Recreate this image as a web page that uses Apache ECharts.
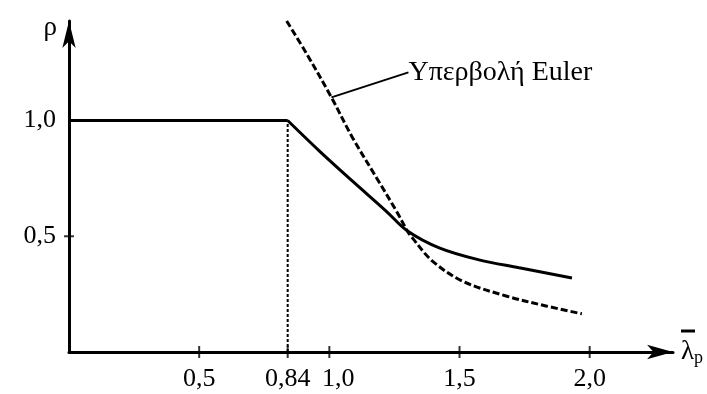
<!DOCTYPE html>
<html lang="el">
<head>
  <meta charset="UTF-8">
  <title>Υπερβολή Euler</title>
  <script src="https://cdn.jsdelivr.net/npm/echarts@6/dist/echarts.min.js"></script>
  <style>
    html, body { margin: 0; padding: 0; background: #fff; }
    #chart { width: 707px; height: 394px; }
  </style>
</head>
<body>
<div id="chart"></div>
<script>
  // ticks
  const xTickValues = [0.5, 0.84, 1.0, 1.5, 2.0];
  const xTickLabels = ['0,5', '0,84', '1,0', '1,5', '2,0'];
  const yTickValues = [0.5, 1.0];
  const yTickLabels = ['0,5', '1,0'];

  // reduction factor rho (plateau, then the curve after the 0.84 corner)
  const rhoX = [0, 0.84, 0.962, 1.089, 1.219, 1.299, 1.422, 1.575, 1.729, 1.932];
  const rhoY = [1.0, 1.0, 0.868, 0.738, 0.608, 0.524, 0.450, 0.398, 0.364, 0.320];

  // Euler hyperbola (dashed)
  const eulerX = [0.836, 0.912, 1.008, 1.089, 1.181, 1.257, 1.299, 1.318, 1.395, 1.510, 1.679, 1.832, 1.970];
  const eulerY = [1.43, 1.290, 1.100, 0.926, 0.753, 0.610, 0.524, 0.494, 0.394, 0.307, 0.242, 0.199, 0.165];
  const eulerLabel = 'Υπερβολή Euler';
  const eulerLabelAt = 2;

  // dotted line at 0.84
  const guideX = [0.84, 0.84];
  const guideY = [0, 1.0];

  const font = 'Liberation Serif';
  const pairs = (xs, ys) => xs.map((x, i) => [x, ys[i]]);

  const chart = echarts.init(document.getElementById('chart'));

  const rhoData = pairs(rhoX, rhoY);
  const eulerData = pairs(eulerX, eulerY).map((p, i) => i === eulerLabelAt ? {
    value: p,
    label: {
      show: true, position: 'right', formatter: eulerLabel,
      fontFamily: font, fontSize: 28, color: '#000'
    }
  } : p);

  // tick marks that cross the axis lines (the 1,0 on y is covered by the plateau)
  const xTickMarks = xTickValues.map(v => [v, 0]);
  const yTickMarks = [[0, yTickValues[0]]];

  chart.setOption({
    animation: false,
    grid: { left: 69, right: 34, top: 21, bottom: 42 },
    xAxis: {
      type: 'value', min: 0, max: 2.32,
      name: '{o|}\n{l|λ}{p|p}',
      nameLocation: 'end', nameGap: 8,
      nameTextStyle: {
        padding: [0, 0, 12, 0],
        rich: {
          o: { width: 14, height: 3, backgroundColor: '#000', lineHeight: 12 },
          l: { fontFamily: font, fontSize: 27, color: '#000', lineHeight: 24 },
          p: { fontFamily: font, fontSize: 18, color: '#000', padding: [12, 0, 0, 0] }
        }
      },
      axisLine: {
        lineStyle: { color: '#000', width: 3 },
        symbol: ['none', 'arrow'], symbolSize: [11, 26]
      },
      axisTick: { show: false },
      axisLabel: {
        customValues: xTickValues, margin: 14,
        formatter: v => {
          const s = xTickLabels[xTickValues.indexOf(v)];
          return v === 1.0 ? '{r|' + s + '}' : s;
        },
        rich: { r: { fontFamily: font, fontSize: 26, color: '#000', padding: [0, 0, 0, 18] } },
        fontFamily: font, fontSize: 26, color: '#000'
      },
      splitLine: { show: false }
    },
    yAxis: {
      type: 'value', min: 0, max: 1.43,
      name: 'ρ',
      nameLocation: 'end', nameGap: -7,
      nameTextStyle: {
        fontFamily: font, fontSize: 27, color: '#000',
        align: 'right', verticalAlign: 'middle', padding: [0, 12, 0, 0]
      },
      axisLine: {
        lineStyle: { color: '#000', width: 3 },
        symbol: ['none', 'arrow'], symbolSize: [10, 27]
      },
      axisTick: { show: false },
      axisLabel: {
        customValues: yTickValues, margin: 13,
        formatter: v => yTickLabels[yTickValues.indexOf(v)],
        fontFamily: font, fontSize: 26, color: '#000'
      },
      splitLine: { show: false }
    },
    series: [
      {
        type: 'line', data: pairs(guideX, guideY), showSymbol: false, silent: true,
        lineStyle: { color: '#000', width: 2, type: [3, 2] }
      },
      {
        type: 'scatter', data: xTickMarks, symbol: 'rect', symbolSize: [2, 12],
        itemStyle: { color: '#000' }, silent: true, clip: false
      },
      {
        type: 'scatter', data: yTickMarks, symbol: 'rect', symbolSize: [10, 2],
        itemStyle: { color: '#000' }, silent: true, clip: false
      },
      {
        type: 'line', data: rhoData.slice(0, 2), showSymbol: false,
        lineStyle: { color: '#000', width: 3 }
      },
      {
        type: 'line', data: rhoData.slice(1), showSymbol: false,
        smooth: 0.35,
        lineStyle: { color: '#000', width: 3 }
      },
      {
        type: 'line', data: eulerData, symbol: 'circle', symbolSize: 0, showSymbol: true,
        smooth: 0.35,
        lineStyle: { color: '#000', width: 3, type: [7, 3] },
        itemStyle: { color: '#000' },
        labelLayout: { dx: 72, dy: -25 },
        labelLine: { show: true, smooth: 0.5, length2: 24, lineStyle: { color: '#000', width: 2 } }
      }
    ]
  });
</script>
</body>
</html>
